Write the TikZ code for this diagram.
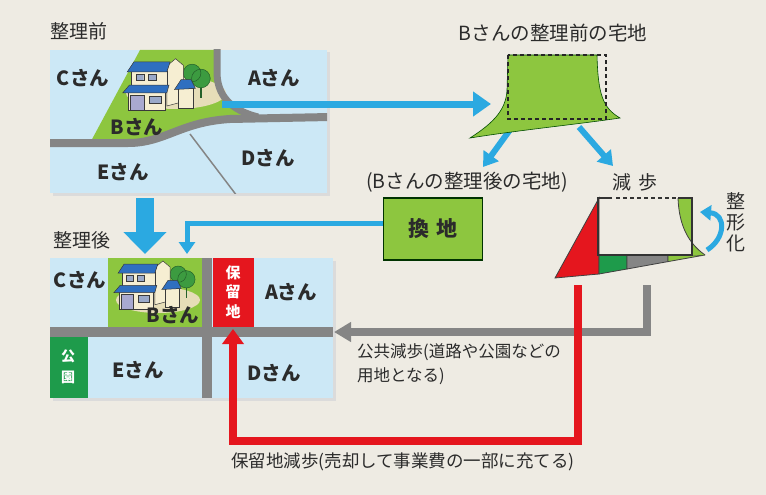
\documentclass[tikz,border=0pt]{standalone}
\usepackage{fontspec}
\setmainfont{Noto Sans CJK JP}
\usetikzlibrary{arrows.meta}
\definecolor{paper}{HTML}{EEEBE3}
\definecolor{lot}{HTML}{CCE8F6}
\definecolor{bgreen}{HTML}{8DC63F}
\definecolor{dgreen}{HTML}{1E9B4B}
\definecolor{road}{HTML}{858585}
\definecolor{arrowblue}{HTML}{2BA9E1}
\definecolor{hred}{HTML}{E5161E}
\definecolor{beige}{HTML}{E6DDB8}
\definecolor{wall}{HTML}{F6EED2}
\definecolor{roofblue}{HTML}{2F6FC0}
\definecolor{winc}{HTML}{9AA9C9}
\definecolor{garage}{HTML}{A9A9D0}
\definecolor{hline}{HTML}{3A3A3A}
\definecolor{treeg}{HTML}{3C9B40}
\definecolor{treedark}{HTML}{24602A}
\definecolor{txt}{HTML}{2B2B2B}
\tikzset{
 house/.pic={
  \draw[treedark, line width=1.2] (60,18) -- (60,30) (69,22) -- (69,33);
  \filldraw[fill=treeg, draw=treedark, line width=0.5] (61,10) circle[radius=8pt] (69,15) circle[radius=8.5pt];
  \filldraw[fill=wall, draw=hline, line width=0.5] (38,9) -- (40,2) -- (46,-3) -- (53,3) -- (53,36) -- (38,40) -- cycle;
  \filldraw[fill=wall, draw=hline, line width=0.5] (6,8) rectangle (38,22);
  \filldraw[fill=winc, draw=hline, line width=0.4] (10,11) rectangle (17,17) (21,11) rectangle (28,17);
  \filldraw[fill=roofblue, draw=hline, line width=0.5] (2,9) -- (8,0) -- (41,0) -- (38,9) -- cycle;
  \filldraw[fill=wall, draw=hline, line width=0.5] (3,27) rectangle (37,44);
  \filldraw[fill=garage, draw=hline, line width=0.4] (5,30) rectangle (17,44);
  \filldraw[fill=winc, draw=hline, line width=0.4] (22,31) rectangle (33,37);
  \filldraw[fill=roofblue, draw=hline, line width=0.5] (-2,28) -- (4,21) -- (40,21) -- (38,28) -- cycle;
  \filldraw[fill=wall, draw=hline, line width=0.5] (48,24) rectangle (62,42);
  \filldraw[fill=roofblue, draw=hline, line width=0.5] (45,25) -- (51,16) -- (60,16) -- (64,24) -- cycle;
 }
}
\begin{document}
\begin{tikzpicture}[x=1pt,y=-1pt,
  lbl/.style={font=\fontsize{19.5}{19.5}\selectfont\bfseries, text=txt, inner sep=0pt},
  captxt/.style={font=\fontsize{17}{17}\selectfont, text=txt, inner sep=0pt},
  vlbl/.style={font=\fontsize{15}{19.5}\selectfont\bfseries, text=white, align=center, inner sep=0pt},
  blueline/.style={draw=arrowblue, line width=6pt},
  outl/.style={draw=black!75, line width=0.8pt},
  shadowfill/.style={fill=black!14}]
\useasboundingbox (0,0) rectangle (766,495);
\fill[paper] (0,0) rectangle (766,495);

% ---------- top map (before) ----------
\node[captxt, font=\fontsize{19}{19}\selectfont] (tbefore) at (79,31) {整理前};
\fill[shadowfill] (52.5,52.5) rectangle (329.5,195.5);
\fill[lot] (50,50) rectangle (327,193);
\begin{scope}
 \clip (50,50) rectangle (327,193);
 \fill[bgreen] (140,50) -- (217,50) -- (217,72) .. controls (217,95) and (230,110) .. (255,117) -- (230,120) .. controls (180,124) and (165,143) .. (128,143) -- (90,143) -- cycle;
 \fill[beige] (176,93) ellipse [x radius=50pt, y radius=16pt];
 \draw[road, line width=1.5pt] (190,134) -- (237,196);
 \draw[road, line width=8pt] (45,143) -- (128,143) .. controls (165,143) and (180,122) .. (230,119) -- (330,117);
 \draw[road, line width=7pt] (217,45) -- (217,72) .. controls (217,95) and (230,110) .. (258,117);
\end{scope}
\pic[scale=1.1] at (125,62) {house};
\node[lbl] (tC1) at (83,78) {Cさん};
\node[lbl] (tA1) at (274,78) {Aさん};
\node[lbl] (tB1) at (137,127) {Bさん};
\node[lbl] (tE1) at (123,172) {Eさん};
\node[lbl] (tD1) at (268,158) {Dさん};

% ---------- arrow to the lot shape ----------
\coordinate (a1s) at (222,104);
\coordinate (a1e) at (491,104);
\draw[blueline, line width=7pt, -{Triangle[length=18pt,width=24pt]}] (a1s) -- (a1e);

% ---------- B lot before ----------
\node[captxt, font=\fontsize{19.5}{19.5}\selectfont] (tlot) at (553,33) {Bさんの整理前の宅地};
\coordinate (d1s) at (512,127);
\coordinate (d1e) at (483,167);
\coordinate (d2s) at (579,127);
\coordinate (d2e) at (613,166);
\draw[blueline, -{Triangle[length=14pt,width=18pt]}] (d1s) -- (d1e);
\draw[blueline, -{Triangle[length=14pt,width=18pt]}] (d2s) -- (d2e);
\filldraw[fill=bgreen, draw=green!30!black, line width=0.6pt] (508,55) -- (597,55) .. controls (598,95) and (603,108) .. (620,118) .. controls (580,124) and (520,130) .. (470,138) .. controls (490,125) and (506,112) .. (507,90) -- cycle;
\draw[black!85, line width=1.6pt, dash pattern=on 4pt off 3pt] (508,55) rectangle (606,119);

% ---------- kanchi ----------
\node[captxt, font=\fontsize{19.5}{19.5}\selectfont] (tafter) at (467,182) {(Bさんの整理後の宅地)};
\node[draw=green!20!black, fill=bgreen, line width=1.2pt, minimum width=99pt, minimum height=62pt,
      font=\fontsize{21}{21}\selectfont\bfseries, text=txt] (kanchi) at (433,229) {換\hspace{0.35em}地};
\coordinate (k1) at (187,223);
\coordinate (k2) at (187,254);
\draw[blueline, line width=5pt, -{Triangle[length=12pt,width=16pt]}] ([yshift=6pt]kanchi.west) -- (k1) -- (k2);
\coordinate (bigs) at (145,198);
\coordinate (bige) at (145,254);
\draw[arrowblue, line width=18pt, -{Triangle[length=22pt,width=42pt]}] (bigs) -- (bige);

% ---------- bottom map (after) ----------
\node[captxt, font=\fontsize{19}{19}\selectfont] (tafter2) at (82,240) {整理後};
\fill[shadowfill] (52.5,260.5) rectangle (335.5,400.5);
\fill[lot] (50,258) rectangle (333,398);
\fill[bgreen] (108,258) rectangle (202,327);
\fill[beige] (158,300) ellipse [x radius=42pt, y radius=13pt];
\fill[hred] (213,258) rectangle (254,327);
\fill[dgreen] (50,337) rectangle (88,398);
\fill[road] (50,327) rectangle (333,337);
\fill[road] (202,258) rectangle (212,398);
\pic[scale=1.02] at (116,264) {house};
\node[lbl] (tC2) at (80,280) {Cさん};
\node[lbl] (tB2) at (173,315) {Bさん};
\node[lbl] (tA2) at (291,292) {Aさん};
\node[lbl] (tE2) at (138,370) {Eさん};
\node[lbl] (tD2) at (274,373) {Dさん};
\node[vlbl] (thoryu) at (233,292) {保\\留\\地};
\node[vlbl, font=\fontsize{14}{21}\selectfont\bfseries] (tkoen) at (68,367) {公\\園};

% ---------- genbu figure ----------
\node[captxt, font=\fontsize{19}{19}\selectfont] (tgenbu) at (635,182) {減\hspace{0.35em}歩};
\filldraw[fill=hred, outl] (599,198) -- (555,278) -- (599,274) -- cycle;
\filldraw[fill=dgreen, outl] (599,255) -- (627,255) -- (627,269) -- (599,274) -- cycle;
\filldraw[fill=road, outl] (627,255) -- (668,255) -- (668,261.6) -- (627,269) -- cycle;
\filldraw[fill=bgreen, outl] (668,255) -- (705,255) -- (668,261.6) -- cycle;
\fill[bgreen] (678,198) .. controls (679,225) and (688,243) .. (705,255) -- (692,255) -- (692,198) -- cycle;
\draw[black!75, line width=0.8pt] (678,198) .. controls (679,225) and (688,243) .. (705,255);
\draw[black!80, line width=1.4pt] (612,198) -- (598,198) -- (598,255) -- (692,255) -- (692,198) -- (678,198);
\draw[black!80, line width=1.4pt, dash pattern=on 4pt off 3pt] (616,198) -- (677,198);
\coordinate (sk1) at (707,250);
\coordinate (sk2) at (700,212);
\draw[arrowblue, line width=5pt, -{Triangle[length=11pt,width=15pt]}] (sk1) .. controls (726,238) and (726,214) .. (sk2);
\node[captxt, font=\fontsize{19}{21}\selectfont, align=center] (tseikei) at (736,222) {整\\形\\化};

% ---------- public & reserved land arrows ----------
\coordinate (g1) at (647,285);
\coordinate (g2) at (647,332);
\coordinate (g3) at (334,332);
\draw[road, line width=8pt, -{Triangle[length=17pt,width=19pt]}] (g1) -- (g2) -- (g3);
\coordinate (r1) at (578,285);
\coordinate (r2) at (578,441);
\coordinate (r3) at (233,441);
\coordinate (r4) at (233,329);
\draw[hred, line width=8pt, -{Triangle[length=15pt,width=21pt]}] (r1) -- (r2) -- (r3) -- (r4);

\node[captxt, anchor=west, font=\fontsize{16.5}{16.5}\selectfont] (tpub1) at (357,352) {公共減歩(道路や公園などの};
\node[captxt, anchor=west, font=\fontsize{16.5}{16.5}\selectfont] (tpub2) at (357,376) {用地となる)};
\node[captxt, font=\fontsize{17.5}{17.5}\selectfont] (tres) at (403,462) {保留地減歩(売却して事業費の一部に充てる)};
\end{tikzpicture}
\end{document}
